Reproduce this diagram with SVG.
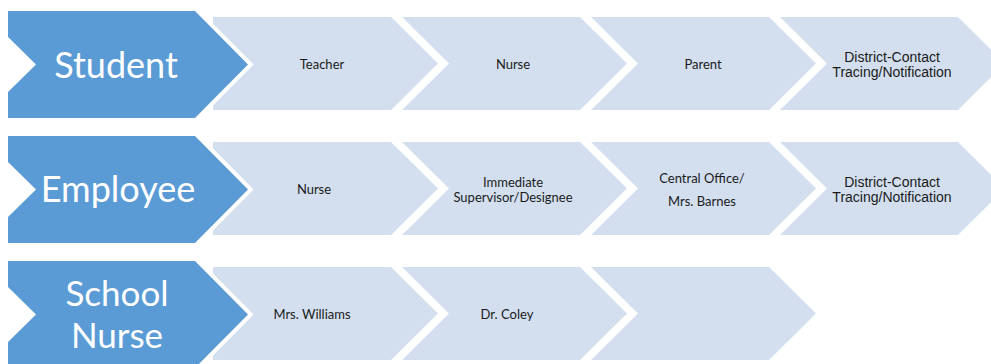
<svg xmlns="http://www.w3.org/2000/svg" xmlns:xlink="http://www.w3.org/1999/xlink" width="991" height="364" viewBox="0 0 991 364">
  <style>
    .blue { fill: #5B9BD5; stroke: #FFFFFF; stroke-width: 8; paint-order: stroke; stroke-linejoin: miter; }
    .light { fill: #D3DFEF; }
    .big { font-family: Lato, "Open Sans", sans-serif; font-size: 36px; fill: #FFFFFF; text-anchor: middle; }
    .big2 { font-family: Lato, "Open Sans", sans-serif; font-size: 35px; fill: #FFFFFF; text-anchor: middle; }
    .small { font-family: Lato, "Open Sans", sans-serif; font-size: 13px; fill: #1A1A1A; text-anchor: middle; }
    .arial { font-family: "Liberation Sans", Arial, sans-serif; font-size: 14px; fill: #1A1A1A; text-anchor: middle; }
  </style>
  <defs>
    <polygon id="chevBlue" points="8,11 195,11 248,64.5 195,118 8,118 8,92 36,64.5 8,37"/>
    <polygon id="chevFirst" points="213,17 391,17 438,63.5 391,110 213,110"/>
    <polygon id="chevMid" points="0,17 178,17 225,63.5 178,110 0,110 47,63.5"/>
  </defs>
  <rect width="991" height="364" fill="#FFFFFF"/>

  <g id="row-student">
    <g id="student-teacher"><use xlink:href="#chevFirst" class="light"/><text class="small" x="322" y="69">Teacher</text></g>
    <g id="student-nurse"><use xlink:href="#chevMid" class="light" x="402"/><text class="small" x="513" y="69">Nurse</text></g>
    <g id="student-parent"><use xlink:href="#chevMid" class="light" x="591"/><text class="small" x="703" y="69">Parent</text></g>
    <g id="student-district"><use xlink:href="#chevMid" class="light" x="780"/><text class="arial" x="892" y="62">District-Contact</text><text class="arial" x="892" y="77">Tracing/Notification</text></g>
    <g id="student"><use xlink:href="#chevBlue" class="blue"/><text class="big" x="116" y="78">Student</text></g>
  </g>

  <g id="row-employee" transform="translate(0,125)">
    <g id="employee-nurse"><use xlink:href="#chevFirst" class="light"/><text class="small" x="314" y="69">Nurse</text></g>
    <g id="employee-supervisor"><use xlink:href="#chevMid" class="light" x="402"/><text class="small" x="513" y="62">Immediate</text><text class="small" x="513" y="77">Supervisor/Designee</text></g>
    <g id="employee-central-office"><use xlink:href="#chevMid" class="light" x="591"/><text class="small" x="702" y="58">Central Office/</text><text class="small" x="702" y="81">Mrs. Barnes</text></g>
    <g id="employee-district"><use xlink:href="#chevMid" class="light" x="780"/><text class="arial" x="892" y="62">District-Contact</text><text class="arial" x="892" y="77">Tracing/Notification</text></g>
    <g id="employee"><use xlink:href="#chevBlue" class="blue"/><text class="big" x="118" y="77">Employee</text></g>
  </g>

  <g id="row-school-nurse" transform="translate(0,250)">
    <g id="school-nurse-williams"><use xlink:href="#chevFirst" class="light"/><text class="small" x="312" y="69">Mrs. Williams</text></g>
    <g id="school-nurse-coley"><use xlink:href="#chevMid" class="light" x="402"/><text class="small" x="507" y="69">Dr. Coley</text></g>
    <g id="school-nurse-empty"><use xlink:href="#chevMid" class="light" x="591"/></g>
    <g id="school-nurse"><use xlink:href="#chevBlue" class="blue"/><text class="big2" x="117" y="56">School</text><text class="big2" x="117" y="98">Nurse</text></g>
  </g>

  <g id="connectors"/>
</svg>
